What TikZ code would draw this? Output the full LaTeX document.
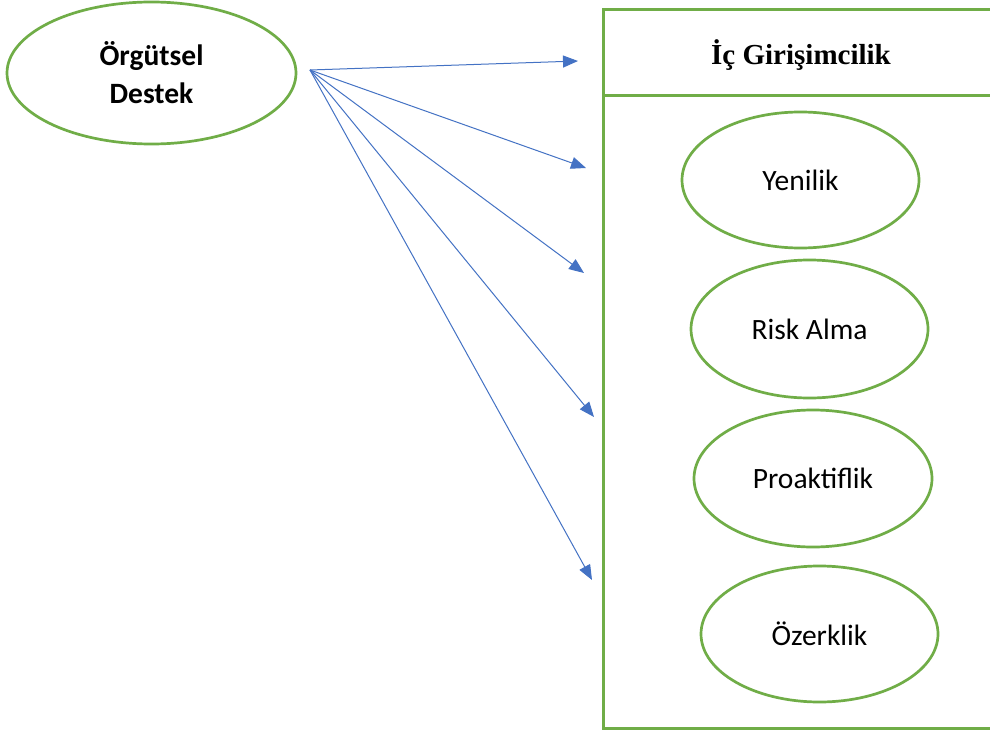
\documentclass[tikz,border=0pt]{standalone}
\usepackage{fontspec}
\setmainfont{Carlito}
\newfontfamily\titlefont{Liberation Serif}
\usetikzlibrary{shapes.geometric,arrows.meta}
\definecolor{frgreen}{HTML}{70AD47}
\definecolor{arblue}{HTML}{4472C4}
\begin{document}
\begin{tikzpicture}[x=1pt,y=-1pt,
  oval/.style={ellipse,draw=frgreen,line width=2.7pt,inner sep=0pt,align=center,
    font=\fontsize{29.5}{38}\selectfont},
  arr/.style={draw=arblue,line width=1pt,-{Triangle[length=15pt,width=12pt]},color=arblue},
  frame/.style={draw=frgreen,line width=3pt}]
\useasboundingbox[fill=white] (0,0) rectangle (990,733);
% source ellipse
\node[oval,minimum width=289pt,minimum height=142pt,font=\bfseries\fontsize{29.5}{38}\selectfont] (org) at (151.5,73) {Örgütsel\\Destek};
% frame
\draw[frame] (1000,10) -- (603,10) -- (603,728) -- (1000,728);
\draw[frame] (603,96) -- (1000,96);
\node[font=\titlefont\bfseries\fontsize{29}{34}\selectfont] (title) at (801,55) {İç Girişimcilik};
% inner ellipses
\node[oval,minimum width=237pt,minimum height=136pt] (yen) at (800.5,180) {Yenilik};
\node[oval,minimum width=237pt,minimum height=138pt] (risk) at (809.5,329) {Risk Alma};
\node[oval,minimum width=238pt,minimum height=137pt] (pro) at (813,478.5) {Proaktiflik};
\node[oval,minimum width=237pt,minimum height=136pt] (oz) at (819.5,634) {Özerklik};
% arrows
\coordinate (src) at (310,70);
\coordinate (t1) at (578,61);
\coordinate (t2) at (586,168);
\coordinate (t3) at (584,273);
\coordinate (t4) at (594,417);
\coordinate (t5) at (592,580);
\foreach \t in {t1,t2,t3,t4,t5} \draw[arr] (src) -- (\t);
\end{tikzpicture}
\end{document}
